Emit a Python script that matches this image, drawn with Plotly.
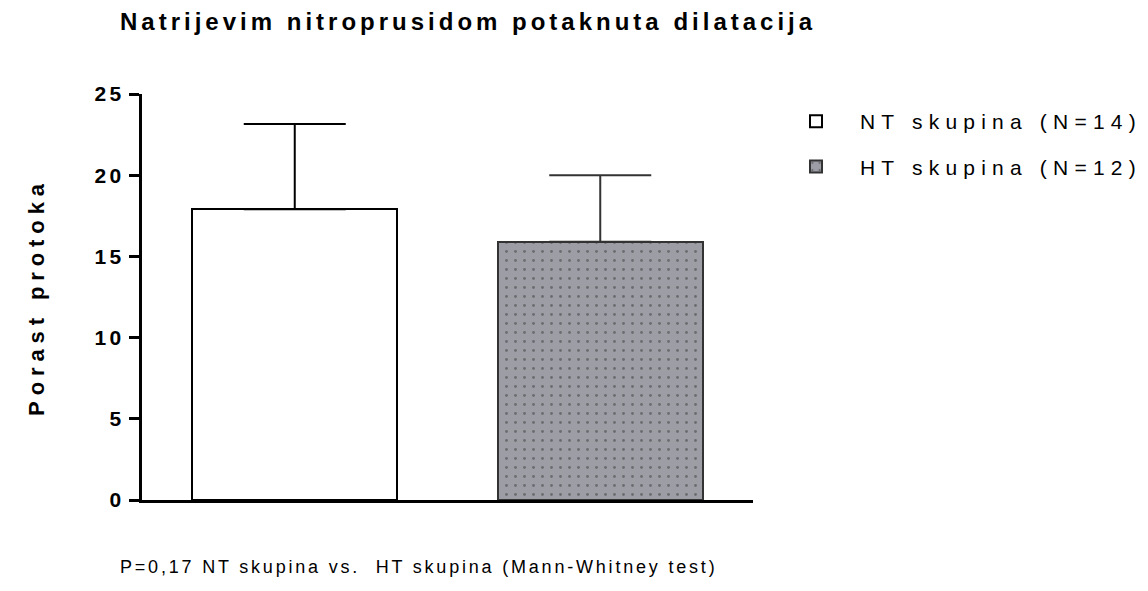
import plotly.graph_objects as go

categories = ["NT skupina (N=14)", "HT skupina (N=12)"]
means = [17.9, 15.9]
sd_plus = [5.25, 4.1]
y_ticks = [0, 5, 10, 15, 20, 25]

title_text = "Natrijevim nitroprusidom potaknuta dilatacija"
y_title = "Porast protoka"
note_text = "P=0,17 NT skupina vs.  HT skupina (Mann-Whitney test)"

FONT = "Liberation Sans, Arial, sans-serif"

W, H = 1140, 583
OFF = 8  # default page body margin
L, T = 142 - OFF, 94 - OFF
PW, PH = 611, 406


def sp(t, ls):
    return f'<span style="letter-spacing:{ls}px">{t}</span>'


fig = go.Figure()
fig.add_trace(go.Bar(
    x=[0], y=[means[0]], name=sp(categories[0], 6.2), width=0.67, legendgroup="nt",
    marker=dict(color="white", line=dict(color="black", width=2)),
    error_y=dict(type="data", array=[sd_plus[0]], arrayminus=[0], symmetric=False,
                 color="black", thickness=2, width=51),
))
fig.add_trace(go.Bar(
    x=[1], y=[means[1]], name=sp(categories[1], 6.2), width=0.67, legendgroup="ht",
    marker=dict(color="#9d9da6", line=dict(color="#333333", width=2),
                pattern=dict(shape=".", fgcolor="#3a3a3a", bgcolor="#9d9da6",
                             size=9, solidity=0.08, fillmode="overlay")),
    error_y=dict(type="data", array=[sd_plus[1]], arrayminus=[0], symmetric=False,
                 color="#333333", thickness=2, width=51),
))

fig.update_layout(
    width=W, height=H,
    margin=dict(l=L, r=W - L - PW, t=T, b=H - T - PH, autoexpand=False),
    plot_bgcolor="white", paper_bgcolor="white",
    font=dict(family=FONT, color="black"),
    showlegend=True,
    legend=dict(x=(772 - 142) / PW, y=1 - (101 - 94) / PH, xanchor="left", yanchor="top",
                font=dict(size=21, family=FONT, color="black"),
                itemwidth=78, tracegroupgap=15, bgcolor="rgba(0,0,0,0)"),
    title=dict(text="<b>" + sp(title_text, 4) + "</b>", x=(120 - OFF) / W, xanchor="left",
               y=1 - (22 - OFF) / H, yanchor="middle",
               font=dict(size=24, family=FONT, color="black")),
    bargap=0,
)
fig.update_xaxes(range=[-0.5, 1.5], showticklabels=False, ticks="",
                 showline=True, linecolor="black", linewidth=3,
                 showgrid=False, zeroline=False, fixedrange=True)
fig.update_yaxes(range=[0, 25], tickvals=y_ticks,
                 ticktext=["<b>" + sp(str(v), 3.5) + "</b>" for v in y_ticks],
                 ticks="outside", ticklen=10, tickwidth=3, tickcolor="black",
                 tickfont=dict(size=21, family=FONT, color="black"),
                 showline=True, linecolor="black", linewidth=3,
                 showgrid=False, zeroline=False,
                 title=dict(text="<b>" + sp(y_title, 5.9) + "</b>", standoff=44,
                            font=dict(size=22, family=FONT, color="black")))

fig.add_annotation(text=sp(note_text, 2.8), xref="paper", yref="paper",
                   x=(118 - 142) / PW, xanchor="left",
                   y=-(567 - 500) / PH, yanchor="middle", showarrow=False,
                   font=dict(size=18, family=FONT, color="black"))

fig.write_html("out.html")
